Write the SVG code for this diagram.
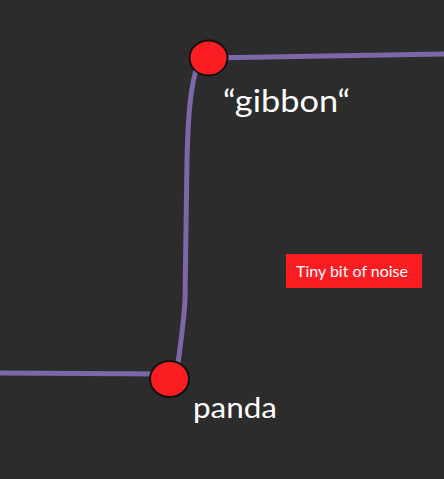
<svg xmlns="http://www.w3.org/2000/svg" width="444" height="479" viewBox="0 0 444 479">
<style>
.edge{fill:none;stroke:#7c67a9;stroke-width:5;stroke-linecap:round;stroke-linejoin:round}
.node{fill:#fc1d22;stroke:#111;stroke-width:2}
.lbl{fill:#ffffff;font-family:Lato,"Open Sans",sans-serif}
</style>
<rect x="0" y="0" width="444" height="479" fill="#2c2c2c"/>
<g id="connectors">
<path class="edge" d="M-5,373 L169,374"/>
<path class="edge" d="M178,364 C181,340 184,320 185,300 L187,160 C188,120 190,80 200,60"/>
<path class="edge" d="M208,58 L449,54"/>
</g>
<g id="gibbon">
<ellipse class="node" cx="208.5" cy="58" rx="19" ry="17.5"/>
<text class="lbl" x="223" y="112" font-size="31" textLength="127" lengthAdjust="spacingAndGlyphs">“gibbon“</text>
</g>
<g id="panda">
<ellipse class="node" cx="169.5" cy="379" rx="19.5" ry="18"/>
<text class="lbl" x="193" y="418" font-size="29" textLength="84" lengthAdjust="spacingAndGlyphs">panda</text>
</g>
<g id="noise">
<rect x="286" y="254" width="136" height="34" fill="#fc1d22"/>
<text class="lbl" x="296" y="277" font-size="15" textLength="112" lengthAdjust="spacingAndGlyphs">Tiny bit of noise</text>
</g>
</svg>
